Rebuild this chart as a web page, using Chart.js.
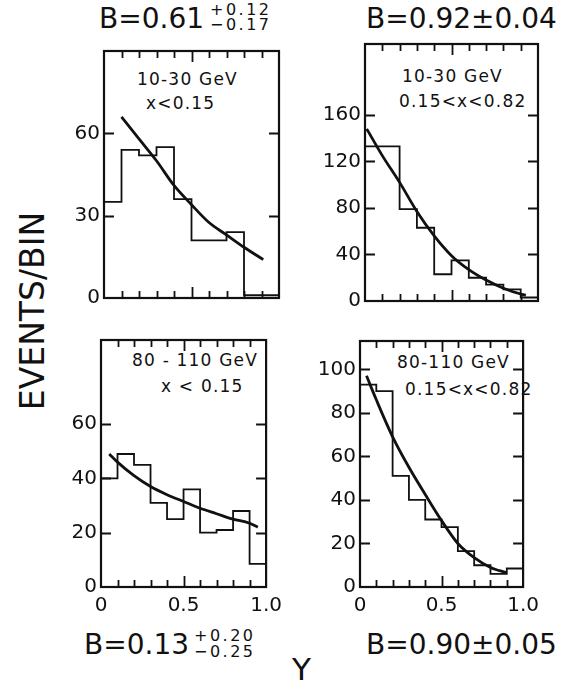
<!DOCTYPE html>
<html><head><meta charset="utf-8">
<script src="https://cdn.jsdelivr.net/npm/chart.js@4.4.0/dist/chart.umd.min.js"></script>
<style>
html,body{margin:0;padding:0;background:#fff;}
#wrap{position:relative;width:565px;height:686px;overflow:hidden;background:#fff;font-family:"DejaVu Sans",sans-serif;color:#111;}
.cv{position:absolute;}
.t{position:absolute;white-space:nowrap;line-height:1;}
.big{font-size:28px;}
.sm{font-size:16px;letter-spacing:2.5px;}
.note{font-size:17px;letter-spacing:1.2px;}
</style></head>
<body><div id="wrap">
  <div class="t big" style="left:99px;top:5px">B=0.61</div>
  <div class="t sm" style="left:210px;top:2px">+0.12</div>
  <div class="t sm" style="left:210px;top:17px">−0.17</div>
  <div class="t big" style="left:366px;top:5px">B=0.92±0.04</div>

  <div class="t big" style="left:84px;top:631px">B=0.13</div>
  <div class="t sm" style="left:194px;top:628px">+0.20</div>
  <div class="t sm" style="left:194px;top:644px">−0.25</div>
  <div class="t big" style="left:366px;top:631px">B=0.90±0.05</div>

  <div class="t" style="left:292px;top:654px;font-size:31px">Y</div>
  <div class="t" style="left:32px;top:311px;font-size:33px;transform:translate(-50%,-50%) rotate(-90deg);">EVENTS/BIN</div>

  <div class="t note" style="left:137px;top:71px">10-30 GeV</div>
  <div class="t note" style="left:146px;top:95px">x&lt;0.15</div>
  <div class="t note" style="left:402px;top:68px">10-30 GeV</div>
  <div class="t note" style="left:399px;top:93px">0.15&lt;x&lt;0.82</div>
  <div class="t note" style="left:132px;top:352px">80 - 110 GeV</div>
  <div class="t note" style="left:161px;top:378px">x &lt; 0.15</div>
  <div class="t note" style="left:397px;top:354px">80-110 GeV</div>
  <div class="t note" style="left:405px;top:381px">0.15&lt;x&lt;0.82</div>
</div>
<script>
// ---- data ----
const binEdges = [0, 0.1, 0.2, 0.3, 0.4, 0.5, 0.6, 0.7, 0.8, 0.9, 1.0];
const xMinorTicks = [0.1, 0.2, 0.3, 0.4, 0.5, 0.6, 0.7, 0.8, 0.9];
const xTickValues = [0, 0.5, 1.0];
const xTickLabels = ["0", "0.5", "1.0"];

// Panel 1: 10-30 GeV, x<0.15
const hist1 = [35, 54, 52, 55, 36, 21, 21, 24, 1, 1];
const curve1X = [0.1, 0.2, 0.3, 0.4, 0.5, 0.6, 0.7, 0.8, 0.91];
const curve1Y = [66, 58, 50, 41, 34, 27.5, 23, 18.5, 14];
const yTicks1 = [0, 30, 60];

// Panel 2: 10-30 GeV, 0.15<x<0.82
const hist2 = [133, 133, 79, 63, 23, 35, 20, 14, 10, 3];
const curve2X = [0.01, 0.1, 0.2, 0.3, 0.4, 0.5, 0.6, 0.7, 0.8, 0.9, 0.93];
const curve2Y = [148, 125, 102, 77, 56, 39, 27, 18, 11, 6, 5];
const yTicks2 = [0, 40, 80, 120, 160];

// Panel 3: 80-110 GeV, x<0.15
const hist3 = [40, 49, 45, 31, 25, 36, 20, 21, 28, 8.5];
const curve3X = [0.05, 0.1, 0.2, 0.3, 0.4, 0.5, 0.6, 0.7, 0.8, 0.9, 0.95];
const curve3Y = [49, 46, 41, 37, 34, 31.5, 29, 27, 25, 23.5, 22];
const yTicks3 = [0, 20, 40, 60];

// Panel 4: 80-110 GeV, 0.15<x<0.82
const hist4 = [93, 90, 51, 40, 31, 27.5, 16.5, 10, 6, 8.5];
const curve4X = [0.04, 0.1, 0.2, 0.3, 0.4, 0.5, 0.6, 0.7, 0.8, 0.9];
const curve4Y = [97, 86, 69, 55, 42.5, 30.5, 20, 13.5, 9, 6.5];
const yTicks4 = [0, 20, 40, 60, 80, 100];

const yMax = [90, 221, 91, 113];

// ---- drawing ----
const INK = '#111';
const FONT = 'DejaVu Sans';

const framePlugin = {
  id: 'frame',
  afterDraw(chart) {
    const ctx = chart.ctx;
    const a = chart.chartArea;
    const xs = chart.scales.x, ys = chart.scales.y;
    ctx.save();
    ctx.strokeStyle = INK;
    ctx.lineCap = 'butt';
    ctx.lineWidth = 1.8;
    for (const v of xMinorTicks) {
      const px = Math.round(xs.getPixelForValue(v)) + 0.5;
      const len = (v > 0.49 && v < 0.51) ? 11 : 7;
      ctx.beginPath();
      ctx.moveTo(px, a.bottom); ctx.lineTo(px, a.bottom - len);
      ctx.moveTo(px, a.top); ctx.lineTo(px, a.top + len);
      ctx.stroke();
    }
    for (const t of ys.ticks) {
      if (t.value <= 0) continue;
      const py = Math.round(ys.getPixelForValue(t.value)) + 0.5;
      ctx.beginPath();
      ctx.moveTo(a.left, py); ctx.lineTo(a.left + 10, py);
      ctx.moveTo(a.right, py); ctx.lineTo(a.right - 10, py);
      ctx.stroke();
    }
    ctx.lineWidth = 2.2;
    ctx.strokeRect(a.left, a.top, a.right - a.left, a.bottom - a.top);
    ctx.restore();
  }
};

const wrap = document.getElementById('wrap');

function makePanel(box, hist, cx, cy, ymax, yTicks, showX) {
  const padL = 64, padR = 14, padT = 12, padB = showX ? 40 : 16;
  const w = box.R - box.L, h = box.B - box.T;
  const holder = document.createElement('div');
  holder.className = 'cv';
  holder.style.left = (box.L - padL) + 'px';
  holder.style.top = (box.T - padT) + 'px';
  const c = document.createElement('canvas');
  c.width = w + padL + padR; c.height = h + padT + padB;
  c.style.width = c.width + 'px'; c.style.height = c.height + 'px';
  holder.appendChild(c);
  wrap.appendChild(holder);
  new Chart(c, {
    type: 'line',
    data: {
      datasets: [
        {
          data: binEdges.map((e, i) => ({x: e, y: hist[Math.min(i, hist.length - 1)]})),
          stepped: true, borderColor: INK, borderWidth: 1.8, pointRadius: 0, fill: false
        },
        {
          data: cx.map((e, i) => ({x: e, y: cy[i]})),
          borderColor: INK, borderWidth: 2.8, pointRadius: 0, fill: false,
          tension: 0.4, cubicInterpolationMode: 'monotone'
        }
      ]
    },
    options: {
      responsive: false, animation: false, devicePixelRatio: 1,
      layout: {padding: {top: padT, right: padR, left: 0, bottom: 0}},
      plugins: {legend: {display: false}, tooltip: {enabled: false}},
      scales: {
        x: {
          type: 'linear', min: 0, max: 1,
          grid: {display: false, drawTicks: false}, border: {display: false},
          afterBuildTicks: s => { s.ticks = xTickValues.map(v => ({value: v})); },
          ticks: {display: showX, padding: 7, color: INK, maxRotation: 0, autoSkip: false,
                  font: {family: FONT, size: 20},
                  callback: (v, i) => xTickLabels[i]},
          afterFit: s => { s.height = padB; }
        },
        y: {
          type: 'linear', min: 0, max: ymax,
          grid: {display: false, drawTicks: false}, border: {display: false},
          afterBuildTicks: s => { s.ticks = yTicks.map(v => ({value: v})); },
          ticks: {padding: 4, color: INK, autoSkip: false,
                  font: {family: FONT, size: 20},
                  callback: (v, i) => String(yTicks[i])},
          afterFit: s => { s.width = padL; }
        }
      }
    },
    plugins: [framePlugin]
  });
}

makePanel({L: 104, R: 279, T: 47, B: 298}, hist1, curve1X, curve1Y, yMax[0], yTicks1, false);
makePanel({L: 365, R: 538, T: 40, B: 301}, hist2, curve2X, curve2Y, yMax[1], yTicks2, false);
makePanel({L: 101, R: 275, T: 336, B: 587}, hist3, curve3X, curve3Y, yMax[2], yTicks3, true);
makePanel({L: 360, R: 532, T: 337, B: 587}, hist4, curve4X, curve4Y, yMax[3], yTicks4, true);
</script>
</body></html>
